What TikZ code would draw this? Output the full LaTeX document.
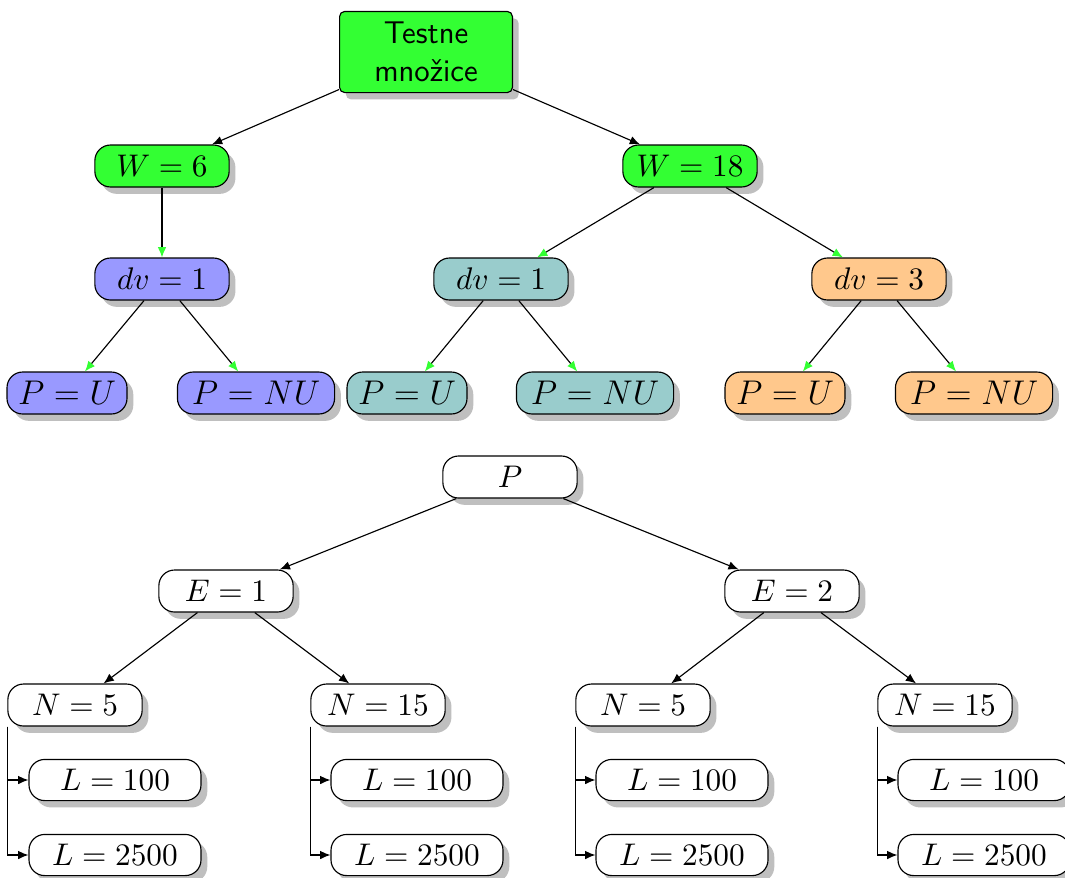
\documentclass[tikz,border=0pt]{standalone}
\usepackage{fontspec}
\usetikzlibrary{shadows,arrows.meta}
\definecolor{tgreen}{RGB}{51,255,51}
\definecolor{tblue}{RGB}{153,153,255}
\definecolor{tteal}{RGB}{153,204,204}
\definecolor{torange}{RGB}{255,200,140}
\begin{document}
\begin{tikzpicture}[x=0.35pt,y=-0.35pt,
  box/.style={draw, rounded corners=5.5pt, minimum height=14.7pt, inner sep=0pt,
    font=\fontsize{11.4}{13}\selectfont,
    drop shadow={shadow xshift=2.2pt, shadow yshift=-2.4pt, fill=black!25, opacity=1}},
  wbox/.style={box, minimum width=47pt},
  pubox/.style={box, minimum width=42pt, font=\fontsize{12}{14}\selectfont},
  pnubox/.style={box, minimum width=55pt, font=\fontsize{12}{14}\selectfont},
  lbox/.style={box, minimum width=60.2pt, minimum height=14.4pt, font=\fontsize{10.5}{12}\selectfont},
  ar/.style={-{Latex[length=3.6pt,width=3pt]}},
  gar/.style={-{Latex[length=3.6pt,width=3pt,color=tgreen]}}]
\useasboundingbox (0,0) rectangle (1065,877);
% top tree
\node[box, fill=tgreen, minimum width=60.5pt, minimum height=28.4pt, rounded corners=1.8pt,
  font=\sffamily\fontsize{11}{13.3}\selectfont, align=center] (root) at (426,52) {Testne\\množice};
\node[wbox, fill=tgreen] (W6) at (162,166) {$W=6$};
\node[wbox, fill=tgreen] (W18) at (690,166) {$W=18$};
\node[wbox, fill=tblue] (dvb) at (162,279) {$dv=1$};
\node[wbox, fill=tteal] (dvt) at (501,279) {$dv=1$};
\node[wbox, fill=torange] (dvo) at (879,279) {$dv=3$};
\node[pubox, fill=tblue] (PUb) at (67,393) {$P=U$};
\node[pnubox, fill=tblue] (PNUb) at (256,393) {$P=NU$};
\node[pubox, fill=tteal] (PUt) at (407,393) {$P=U$};
\node[pnubox, fill=tteal] (PNUt) at (595,393) {$P=NU$};
\node[pubox, fill=torange] (PUo) at (785,393) {$P=U$};
\node[pnubox, fill=torange] (PNUo) at (974,393) {$P=NU$};
\draw[ar] (root) -- (W6);
\draw[ar] (root) -- (W18);
\draw[gar] (W6) -- (dvb);
\draw[gar] (W18) -- (dvt);
\draw[gar] (W18) -- (dvo);
\draw[gar] (dvb) -- (PUb);
\draw[gar] (dvb) -- (PNUb);
\draw[gar] (dvt) -- (PUt);
\draw[gar] (dvt) -- (PNUt);
\draw[gar] (dvo) -- (PUo);
\draw[gar] (dvo) -- (PNUo);
% bottom tree
\node[wbox, fill=white] (P) at (510,477) {$P$};
\node[wbox, fill=white] (E1) at (226,591) {$E=1$};
\node[wbox, fill=white] (E2) at (792,591) {$E=2$};
\node[wbox, fill=white] (N1) at (75,705) {$N=5$};
\node[wbox, fill=white] (N2) at (378,705) {$N=15$};
\node[wbox, fill=white] (N3) at (643,705) {$N=5$};
\node[wbox, fill=white] (N4) at (945,705) {$N=15$};
\foreach \i/\x in {1/115,2/417,3/682,4/984}{
  \node[lbox, fill=white] (La\i) at (\x,780) {$L=100$};
  \node[lbox, fill=white] (Lb\i) at (\x,855) {$L=2500$};
  \draw[ar] (N\i.south west) |- (La\i.west);
  \draw[ar] (N\i.south west) |- (Lb\i.west);
}
\draw[ar] (P) -- (E1);
\draw[ar] (P) -- (E2);
\draw[ar] (E1) -- (N1);
\draw[ar] (E1) -- (N2);
\draw[ar] (E2) -- (N3);
\draw[ar] (E2) -- (N4);
\end{tikzpicture}
\end{document}
